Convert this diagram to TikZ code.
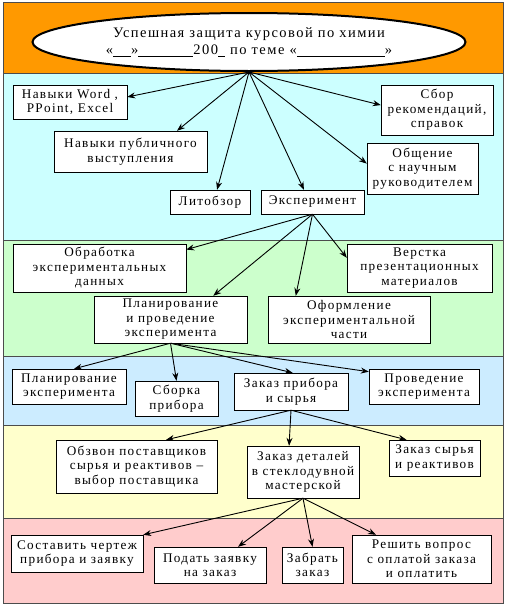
\documentclass[tikz,border=0pt]{standalone}
\usepackage{fontspec}
\setmainfont{Liberation Serif}[LetterSpace=10]
\usepackage{tikz}
\usetikzlibrary{arrows.meta,shapes.geometric}
\definecolor{bandorange}{RGB}{255,153,0}
\definecolor{bandcyan}{RGB}{204,255,255}
\definecolor{bandgreen}{RGB}{204,255,204}
\definecolor{bandblue}{RGB}{204,236,255}
\definecolor{bandyellow}{RGB}{255,255,204}
\definecolor{bandpink}{RGB}{255,204,204}

\begin{document}
\begin{tikzpicture}[x=1pt,y=-1pt,
  box/.style={draw,fill=white,align=center,inner sep=0pt,font=\fontsize{13.2}{14.5}\selectfont},
  arr/.style={-{Stealth[length=8pt,width=6pt]},line width=0.9pt},
  bandline/.style={draw=black!70,thin}]
\useasboundingbox (0,0) rectangle (507,608);
% bands
\fill[bandorange] (3,2) rectangle (503,73);
\fill[bandcyan] (3,73) rectangle (503,240);
\fill[bandgreen] (3,240) rectangle (503,356);
\fill[bandblue] (3,356) rectangle (503,425);
\fill[bandyellow] (3,425) rectangle (503,518);
\fill[bandpink] (3,518) rectangle (503,603);
\draw[bandline] (3,2) rectangle (503,603);
\draw[bandline] (3,73)--(503,73);
\draw[bandline] (3,240)--(503,240);
\draw[bandline] (3,356)--(503,356);
\draw[bandline] (3,425)--(503,425);
\draw[bandline] (3,518)--(503,518);
% goal
\node[draw,ellipse,line width=2pt,fill=white,inner sep=0pt,minimum width=433,minimum height=58,
  align=center,font=\fontsize{14.5}{17}\selectfont] (root) at (249,42)
  {Успешная защита курсовой по химии\\
   «\underline{\hspace{18pt}}»\underline{\hspace{55pt}}200\underline{\hspace{7pt}} по теме «\underline{\hspace{88pt}}»};
% level 1
\node[box,minimum width=114,minimum height=34] (word) at (70,102) {Навыки Word ,\\PPoint, Excel};
\node[box,minimum width=153,minimum height=41] (pub) at (130.5,151.5) {Навыки публичного\\выступления};
\node[box,minimum width=80,minimum height=24] (lit) at (210,202) {Литобзор};
\node[box,minimum width=103,minimum height=24] (exp) at (312.5,202) {Эксперимент};
\node[box,minimum width=112,minimum height=50] (sbor) at (437,110) {Сбор\\рекомендаций,\\справок};
\node[box,minimum width=111,minimum height=51] (obsh) at (422.5,168.5) {Общение\\с научным\\руководителем};
\draw[arr] (root.south)--(word.5);
\draw[arr] (root.south)--(pub.24);
\draw[arr] (root.south)--(lit.60);
\draw[arr] (root.south)--(exp.125);
\draw[arr] (root.south)--(sbor.175);
\draw[arr] (root.south)--(obsh.175);
% level 2
\node[box,minimum width=173,minimum height=48] (obr) at (99.5,268) {Обработка\\экспериментальных\\данных};
\node[box,minimum width=145,minimum height=48] (verst) at (419.5,268) {Верстка\\презентационных\\материалов};
\node[box,minimum width=153,minimum height=47] (plan) at (170.5,319.5) {Планирование\\и проведение\\эксперимента};
\node[box,minimum width=162,minimum height=47] (ofo) at (349,319.5) {Оформление\\экспериментальной\\части};
\draw[arr] (exp.south)--(obr.12);
\draw[arr] (exp.south)--(plan.29);
\draw[arr] (exp.south)--(ofo.156);
\draw[arr] (exp.south)--(verst.172);
% level 3
\node[box,minimum width=114,minimum height=35] (pe) at (69,386.5) {Планирование\\эксперимента};
\node[box,minimum width=83,minimum height=35] (sb) at (176.5,398.5) {Сборка\\прибора};
\node[box,minimum width=114,minimum height=37] (zp) at (291,391.5) {Заказ прибора\\и сырья};
\node[box,minimum width=110,minimum height=35] (prov) at (424,386.5) {Проведение\\эксперимента};
\draw[arr] (plan.south)--(pe.74);
\draw[arr] (plan.south)--(sb.north);
\draw[arr] (plan.south)--(zp.85);
\draw[arr] (plan.south)--(prov.165);
% level 4
\node[box,minimum width=161,minimum height=53] (obz) at (136.5,466.5) {Обзвон поставщиков\\сырья и реактивов –\\выбор поставщика};
\node[box,minimum width=112,minimum height=52] (zd) at (303,472) {Заказ деталей\\в стеклодувной\\мастерской};
\node[box,minimum width=91,minimum height=36] (zs) at (434.5,458) {Заказ сырья\\и реактивов};
\draw[arr] (zp.south)--(obz.42);
\draw[arr] (zp.south)--(zd.118);
\draw[arr] (zp.south)--(zs.147);
% level 5
\node[box,minimum width=132,minimum height=37] (sost) at (77,553.5) {Составить чертеж\\прибора и заявку};
\node[box,minimum width=112,minimum height=36] (pod) at (210,565) {Подать заявку\\на заказ};
\node[box,minimum width=61,minimum height=36] (zab) at (312.5,565) {Забрать\\заказ};
\node[box,minimum width=139,minimum height=48] (resh) at (421.5,559) {Решить вопрос\\с оплатой заказа\\и оплатить};
\draw[arr] (zd.south)--(sost.north east);
\draw[arr] (zd.south)--(pod.33);
\draw[arr] (zd.south)--(zab.north);
\draw[arr] (zd.south)--(resh.152);
\end{tikzpicture}
\end{document}
